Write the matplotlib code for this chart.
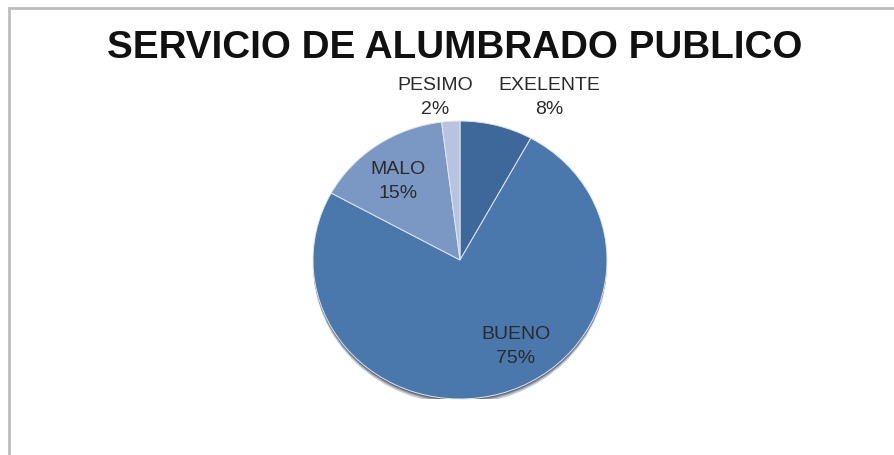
import matplotlib.pyplot as plt
from matplotlib.patches import Rectangle, Ellipse

# =========================================================
# DATA
# =========================================================
TITLE      = "SERVICIO DE ALUMBRADO PUBLICO"
CATEGORIES = ["EXELENTE", "BUENO", "MALO", "PESIMO"]
PERCENTS   = [8, 75, 15, 2]
COLORS     = ["#3d6899", "#4a78ad", "#7b98c5", "#b6c4df"]

# label placement (axes units, pie radius = 1)
LABEL_POS = [(0.61, 1.17), (0.38, -0.62), (-0.42, 0.565), (-0.17, 1.17)]

W, H = 895, 455

plt.rcParams["font.family"] = ["Liberation Sans", "DejaVu Sans"]

fig = plt.figure(figsize=(W / 100, H / 100), dpi=100)

# frame of the chart area (cut off at right / bottom)
fig.patches.append(Rectangle((9 / W, -0.1), 1.2, 1 - 8 / H + 0.1,
                             transform=fig.transFigure, fill=False,
                             edgecolor="#bdbdbd", linewidth=2.0))

fig.text(455 / W, 1 - 48 / H, TITLE, ha="center", va="center",
         fontsize=27.8, fontweight="bold", color="#111111")

# pie axes, slightly squashed like the original 3D-ish view
cx, cy, rx, ry = 460, 260, 147, 139
ax = fig.add_axes([(cx - rx) / W, 1 - (cy + ry) / H, 2 * rx / W, 2 * ry / H])
ax.set_xlim(-1, 1)
ax.set_ylim(-1, 1)
ax.axis("off")

# soft shadow under the pie
for k, a in [(0.035, 0.25), (0.022, 0.35), (0.012, 0.45)]:
    ax.add_patch(Ellipse((0, -k), 2.0, 2.0, facecolor="#1f2f47",
                         edgecolor="none", alpha=a, zorder=0))

wedges, _ = ax.pie(PERCENTS, colors=COLORS, startangle=90, counterclock=False,
                   radius=1.0, wedgeprops=dict(edgecolor="#dfe6f0", linewidth=0.7))
ax.set_aspect("auto")
ax.set_xlim(-1, 1)
ax.set_ylim(-1, 1)

for cat, pct, (x, y) in zip(CATEGORIES, PERCENTS, LABEL_POS):
    ax.text(x, y, f"{cat}\n{pct}%", ha="center", va="center",
            fontsize=14, color="#2a2a2a", linespacing=1.55, clip_on=False)

fig.savefig("out.png", dpi=100)
